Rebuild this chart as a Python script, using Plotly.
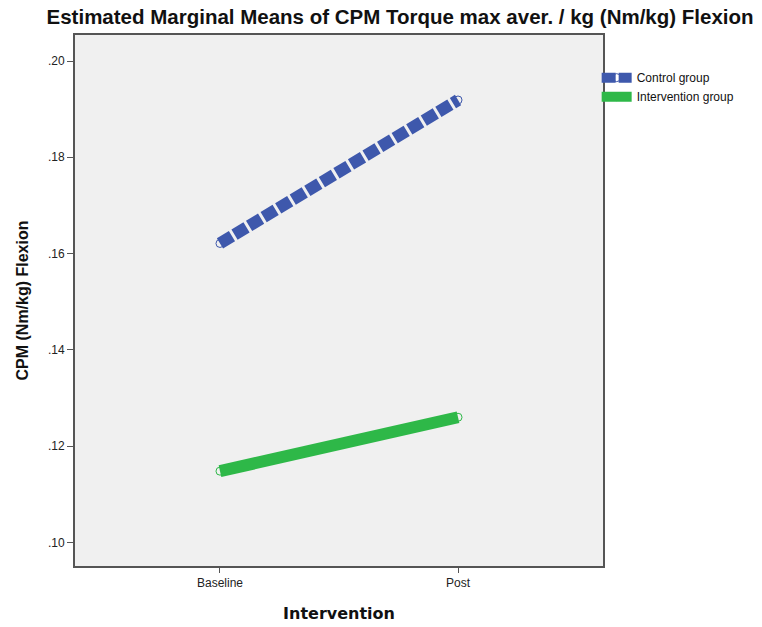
import plotly.graph_objects as go

# Estimated marginal means per time point
timepoints = ["Baseline", "Post"]
control_means = [0.1621, 0.1919]
intervention_means = [0.1148, 0.1260]

BLUE = "#3E58AC"
GREEN = "#2EB848"
FONT = "Liberation Sans, Arial, sans-serif"

fig = go.Figure()

fig.add_trace(go.Scatter(
    x=timepoints, y=control_means, name="Control group",
    mode="lines+markers",
    line=dict(color=BLUE, width=12, dash="14px,3px"),
    marker=dict(symbol="circle-open", size=8, color=BLUE, line=dict(width=1)),
))
fig.add_trace(go.Scatter(
    x=timepoints, y=intervention_means, name="Intervention group",
    mode="lines+markers",
    line=dict(color=GREEN, width=12),
    marker=dict(symbol="circle-open", size=8, color=GREEN, line=dict(width=1)),
))

fig.update_layout(
    width=762, height=627,
    margin=dict(l=75, r=159, t=35, b=61),
    paper_bgcolor="white",
    plot_bgcolor="#F0F0F0",
    font=dict(family=FONT, size=12, color="#222"),
    title=dict(
        text="<b>Estimated Marginal Means of CPM Torque max aver. / kg (Nm/kg) Flexion</b>",
        x=0.525, xanchor="center", y=0.973, yanchor="middle",
        font=dict(family=FONT, size=20.5, color="#111"),
    ),
    legend=dict(
        x=0.988, y=0.947, xanchor="left", yanchor="top",
        bgcolor="rgba(0,0,0,0)", font=dict(size=12, color="#111"),
        tracegroupgap=0, itemwidth=30,
    ),
    showlegend=True,
)

fig.update_xaxes(
    type="category", range=[-0.609, 1.609], automargin=False,
    showgrid=False, zeroline=False,
    showline=True, linecolor="#555", linewidth=2, mirror=True,
    ticks="outside", ticklen=5, tickcolor="#555",
    tickfont=dict(size=12, color="#222"),
    title=dict(text="<b>Intervention</b>", standoff=18,
               font=dict(family="DejaVu Sans, Verdana, sans-serif", size=16, color="#111")),
)
fig.update_yaxes(
    range=[0.0951, 0.2054], automargin=False,
    tickvals=[0.10, 0.12, 0.14, 0.16, 0.18, 0.20],
    ticktext=[".10", ".12", ".14", ".16", ".18", ".20"],
    showgrid=False, zeroline=False,
    showline=True, linecolor="#555", linewidth=2, mirror=True,
    ticks="outside", ticklen=6, tickcolor="#555",
    tickfont=dict(size=12, color="#222"),
    title=dict(text="<b>CPM (Nm/kg) Flexion</b>", standoff=15,
               font=dict(family=FONT, size=16, color="#111")),
)

fig.write_html("out.html")
